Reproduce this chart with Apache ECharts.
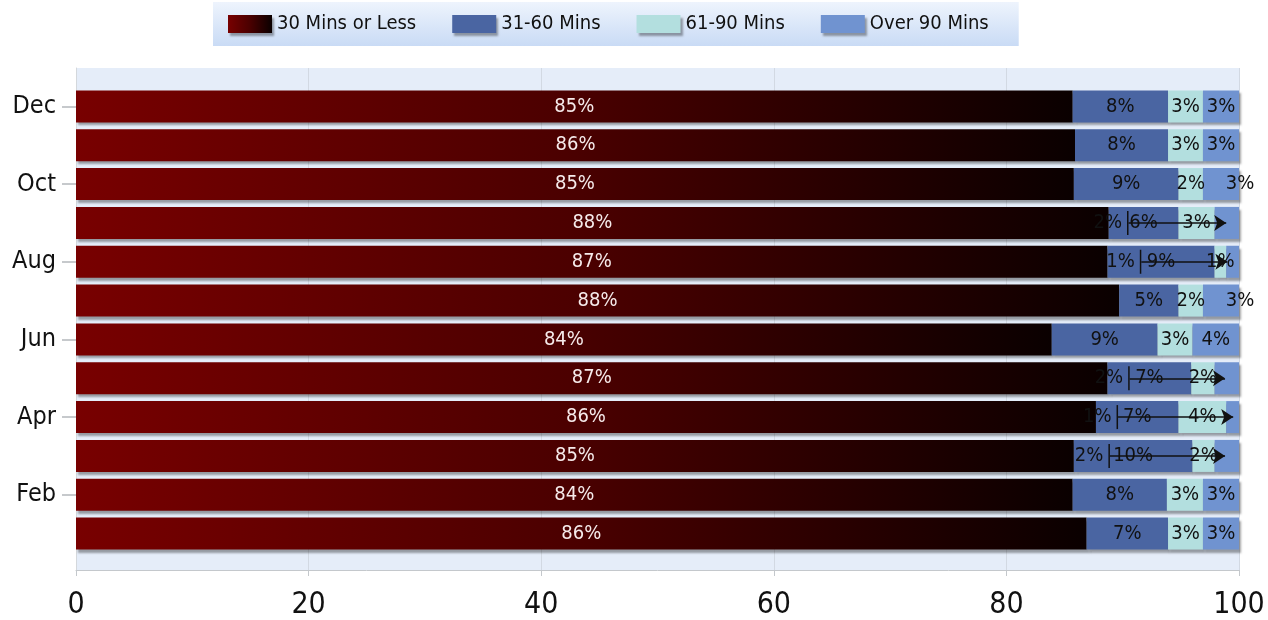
<!DOCTYPE html>
<html>
<head>
<meta charset="utf-8">
<script src="https://cdn.jsdelivr.net/npm/echarts@6/dist/echarts.min.js"></script>
<style>
  html, body { margin: 0; padding: 0; background: #fff; }
  #chart { width: 1268px; height: 620px; }
</style>
</head>
<body>
<div id="chart"></div>
<script>
var months = ['Jan', 'Feb', 'Mar', 'Apr', 'May', 'Jun', 'Jul', 'Aug', 'Sep', 'Oct', 'Nov', 'Dec']
var seriesNames = ['30 Mins or Less', '31-60 Mins', '61-90 Mins', 'Over 90 Mins']

// bar lengths (share of 100)
var mins0to30 = [86.9, 85.7, 85.8, 87.7, 88.7, 83.9, 89.7, 88.7, 88.8, 85.8, 85.9, 85.7]
var mins31to60 = [7.0, 8.1, 10.2, 7.1, 7.2, 9.1, 5.1, 9.2, 6.0, 9.0, 8.0, 8.2]
var mins61to90 = [3.0, 3.1, 1.9, 4.1, 2.0, 3.0, 2.1, 1.0, 3.1, 2.1, 3.0, 3.0]
var minsOver90 = [3.1, 3.1, 2.1, 1.1, 2.1, 4.0, 3.1, 1.1, 2.1, 3.1, 3.1, 3.1]

// printed labels
var label0to30 = ['86%', '84%', '85%', '86%', '87%', '84%', '88%', '87%', '88%', '85%', '86%', '85%']
var label31to60 = ['7%', '8%', '10%', '7%', '7%', '9%', '5%', '9%', '6%', '9%', '8%', '8%']
var label61to90 = ['3%', '3%', '2%', '4%', '2%', '3%', '2%', '1%', '3%', '2%', '3%', '3%']
var labelOver90 = ['3%', '3%', '2%', '1%', '2%', '4%', '3%', '1%', '2%', '3%', '3%', '3%']

// rows where the small labels are pulled out with a leader arrow
var leaderMonths = ['Mar', 'Apr', 'May', 'Aug', 'Sep']
var leaderFrom = [88.9, 89.6, 90.6, 91.6, 90.5]
var leaderTo = [98.8, 99.5, 98.8, 99.0, 98.9]
var shiftedMonths = ['Jul', 'Oct']

var xTicks = [0, 20, 40, 60, 80, 100]

var font = 'DejaVu Sans Condensed, DejaVu Sans, sans-serif'
var colors = [
  new echarts.graphic.LinearGradient(0, 0, 1, 0, [
    { offset: 0, color: '#780000' },
    { offset: 0.5, color: '#4a0000' },
    { offset: 1, color: '#0a0000' }
  ]),
  '#4a65a2',
  '#b3dfdf',
  '#7093d0'
]
var shadow = {
  shadowColor: 'rgba(0,0,0,0.35)',
  shadowBlur: 2,
  shadowOffsetX: 2,
  shadowOffsetY: 3
}

function isLeader(i) {
  return leaderMonths.indexOf(months[i]) >= 0
}

function buildData(values, labels, k) {
  return values.map(function(v, i) {
    var item = { value: v, label: { formatter: labels[i] } }
    if (k === 3 && isLeader(i)) {
      item.label.show = false
    }
    if (k === 3 && shiftedMonths.indexOf(months[i]) >= 0) {
      item.label.offset = [19, 0]
    }
    return item
  })
}

var leaderLines = leaderMonths.map(function(m, j) {
  var i = months.indexOf(m)
  return [
    {
      coord: [leaderFrom[j], m],
      label: {
        show: true,
        position: 'start',
        distance: 0,
        formatter: '{v|' + labelOver90[i] + '}{g|}{t|}',
        rich: {
          v: { fontSize: 20, fontFamily: font, color: '#111' },
          g: { width: 5 },
          t: { width: 1.5, height: 24, backgroundColor: '#111' }
        }
      }
    },
    { coord: [leaderTo[j], m] }
  ]
})

var valueSets = [mins0to30, mins31to60, mins61to90, minsOver90]
var labelSets = [label0to30, label31to60, label61to90, labelOver90]

var series = seriesNames.map(function(name, k) {
  var s = {
    name: name,
    type: 'bar',
    stack: 'total',
    xAxisIndex: 1,
    yAxisIndex: 1,
    barWidth: 32,
    itemStyle: Object.assign({ color: colors[k] }, shadow),
    label: {
      show: true,
      position: 'inside',
      fontSize: 20,
      fontFamily: font,
      color: k === 0 ? '#f6eaea' : '#111'
    },
    data: buildData(valueSets[k], labelSets[k], k)
  }
  if (k === 3) {
    s.markLine = {
      silent: true,
      animation: false,
      symbol: ['none', 'arrow'],
      symbolSize: 12,
      lineStyle: { color: '#111', width: 1.5, type: 'solid' },
      data: leaderLines
    }
  }
  return s
})

var chart = echarts.init(document.getElementById('chart'))
chart.setOption({
  animation: false,
  color: colors,
  legend: {
    data: seriesNames,
    icon: 'rect',
    left: 213,
    top: 2,
    width: 814,
    padding: [12, 30, 12, 15],
    itemWidth: 44,
    itemHeight: 18,
    itemGap: 36,
    itemStyle: shadow,
    backgroundColor: new echarts.graphic.LinearGradient(0, 0, 0, 1, [
      { offset: 0, color: '#eef4fd' },
      { offset: 1, color: '#c9dbf5' }
    ]),
    textStyle: { fontSize: 20, fontFamily: font, color: '#111' }
  },
  grid: [
    { left: 76, right: 29, top: 68, bottom: 48, show: true, backgroundColor: '#e5edf9', borderWidth: 0 },
    { left: 76, right: 29, top: 87, bottom: 67 }
  ],
  xAxis: [
    {
      gridIndex: 0,
      type: 'value',
      min: xTicks[0],
      max: xTicks[xTicks.length - 1],
      interval: xTicks[1] - xTicks[0],
      axisLine: { show: true, lineStyle: { color: '#c4c8cc' } },
      axisTick: { show: true, length: 6, lineStyle: { color: '#c4c8cc' } },
      axisLabel: { fontSize: 30, fontFamily: font, color: '#111', margin: 20 },
      splitLine: { show: true, lineStyle: { color: '#d2d9e3' } }
    },
    {
      gridIndex: 1,
      type: 'value',
      min: xTicks[0],
      max: xTicks[xTicks.length - 1],
      show: false
    }
  ],
  yAxis: [
    {
      gridIndex: 0,
      type: 'value',
      min: 0,
      max: 1,
      axisLine: { show: true, lineStyle: { color: '#d4d8dc' } },
      axisTick: { show: false },
      axisLabel: { show: false },
      splitLine: { show: false }
    },
    {
      gridIndex: 1,
      type: 'category',
      data: months,
      axisLine: { show: false },
      axisTick: {
        show: true,
        length: 14,
        alignWithLabel: true,
        interval: function(i) { return i % 2 === 1 },
        lineStyle: { color: '#b4b8bc', width: 1.5 }
      },
      axisLabel: {
        interval: function(i) { return i % 2 === 1 },
        fontSize: 25,
        fontFamily: font,
        color: '#111',
        margin: 20
      }
    }
  ],
  series: series
})
</script>
</body>
</html>
